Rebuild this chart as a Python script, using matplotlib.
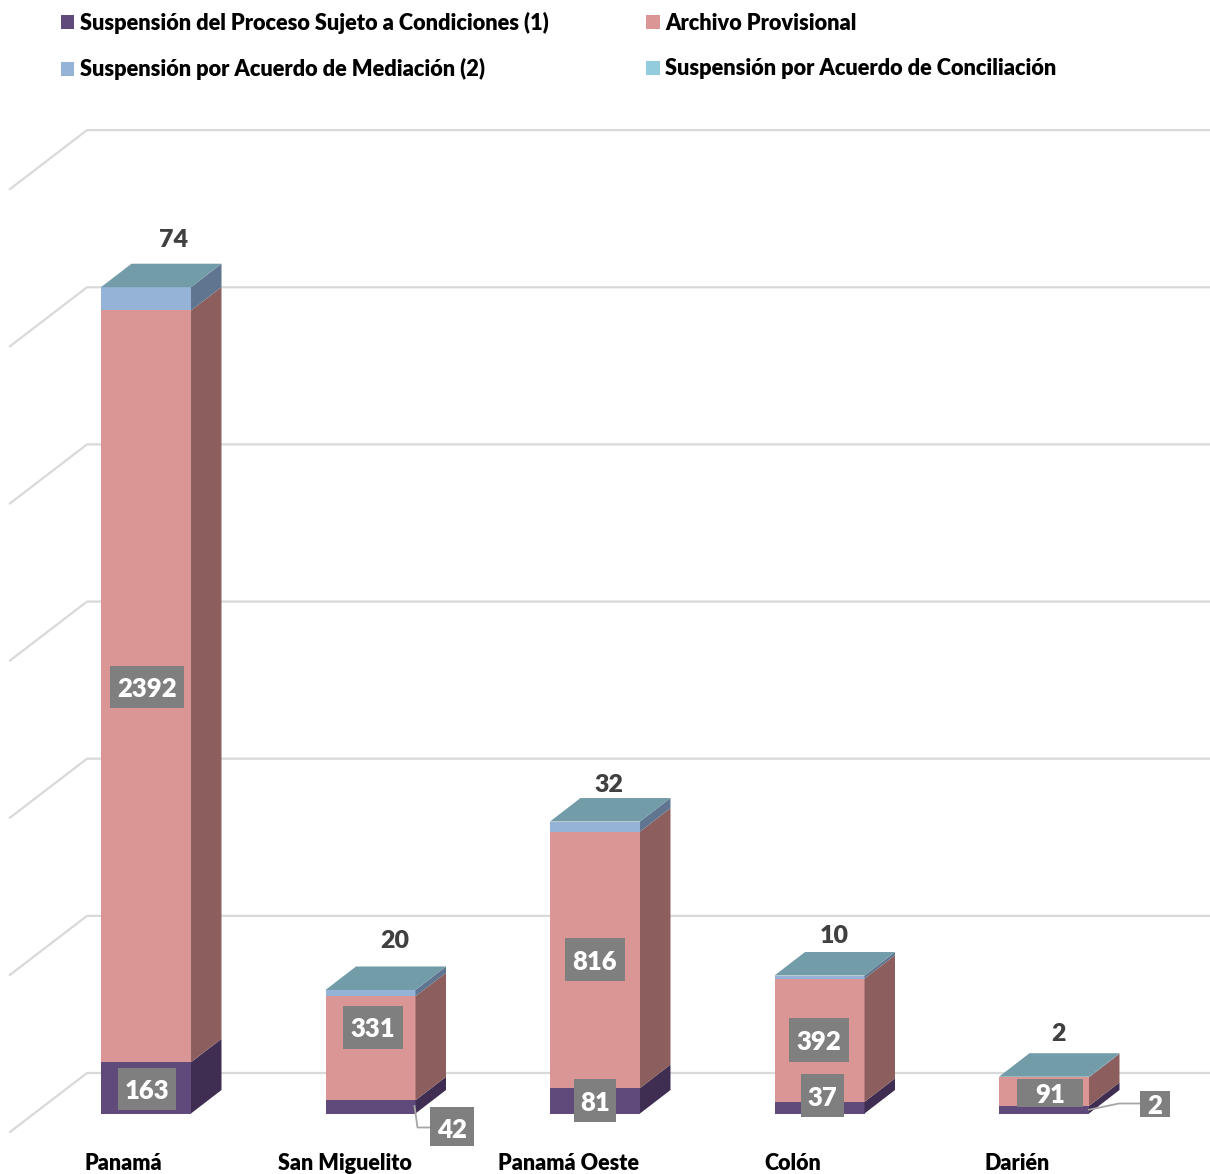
import numpy as np
import matplotlib
matplotlib.use('Agg')
import matplotlib.pyplot as plt
from matplotlib.patches import Patch, Polygon, Rectangle

plt.rcParams['font.family'] = ['Lato', 'DejaVu Sans']
BOLD = 'heavy'

categories = ['Panamá', 'San Miguelito', 'Panamá Oeste', 'Colón', 'Darién']
series_names = ['Suspensión del Proceso Sujeto a Condiciones (1)', 'Archivo Provisional',
                'Suspensión por Acuerdo de Mediación (2)', 'Suspensión por Acuerdo de Conciliación']

# Darién's first segment is drawn much taller than its printed label of 2,
# so bar heights and printed labels are kept apart for that series
proceso = [163, 42, 81, 37, 24]
proceso_labels = ['163', '42', '81', '37', '2']
archivo = [2392, 331, 816, 392, 91]
mediacion = [74, 20, 32, 10, 2]
conciliacion = [0, 0, 0, 0, 0]
y_ticks = [0, 500, 1000, 1500, 2000, 2500, 3000]

front_colors = ['#604a7b', '#d99694', '#95b3d7', '#93cddd']
side_colors = ['#3f2e52', '#8c5f5e', '#5f7590', '#5f8a96']
top_color = '#729ca8'
grid_color = '#d9d9d9'
label_box = '#7f7f7f'

# Pixel scale of the axes
W, H = 1210, 1174
AX_BOTTOM = 1146
X0, STEP = 146, 224.5
Y0, PX_PER_UNIT = 1113.5, 0.3143


def dx(px):
    return px / STEP


def dy(px):
    return px / PX_PER_UNIT


fig = plt.figure(figsize=(W / 100, H / 100), dpi=100)
ax = fig.add_axes([0, 1 - AX_BOTTOM / H, 1, AX_BOTTOM / H])
ax.set_xlim(dx(-X0), dx(W - X0))
ax.set_ylim(dy(Y0 - AX_BOTTOM), dy(Y0))
ax.patch.set_visible(False)
for spine in ax.spines.values():
    spine.set_visible(False)
ax.set_yticks([])

# Back wall and side wall gridlines
for v in y_ticks:
    back_y = v + dy(Y0 - 1073)
    front_y = v + dy(Y0 - 1132)
    wall_x = dx(87 - X0)
    ax.plot([dx(10 - X0), wall_x, dx(W - X0)], [front_y, back_y, back_y],
            color=grid_color, linewidth=1.6, zorder=1, solid_joinstyle='miter')

# 3D stacked bars
x = np.arange(len(categories))
half = dx(45)
depth_x, depth_y = dx(30.5), dy(23.5)
stack = np.array([proceso, archivo, mediacion, conciliacion], dtype=float)
bottoms = np.vstack([np.zeros(len(x)), np.cumsum(stack, axis=0)[:-1]])

for i in x:
    left, right = i - half, i + half
    for s in range(len(stack)):
        lo = bottoms[s, i]
        hi = lo + stack[s, i]
        if stack[s, i] == 0:
            continue
        ax.add_patch(Polygon([(left, lo), (right, lo), (right, hi), (left, hi)],
                             facecolor=front_colors[s], edgecolor='none', zorder=2))
        ax.add_patch(Polygon([(right, lo), (right + depth_x, lo + depth_y),
                              (right + depth_x, hi + depth_y), (right, hi)],
                             facecolor=side_colors[s], edgecolor='none', zorder=2))
    total = stack[:, i].sum()
    ax.add_patch(Polygon([(left, total), (right, total),
                          (right + depth_x, total + depth_y), (left + depth_x, total + depth_y)],
                         facecolor=top_color, edgecolor='none', zorder=3))


def box_label(text, i, value, offset, box, size=18.5):
    # offset and box are in pixels; offset is taken from the segment's middle
    cx = i + dx(offset[0])
    cy = value + dy(offset[1])
    ax.add_patch(Rectangle((cx - dx(box[0] / 2), cy - dy(box[1] / 2)), dx(box[0]), dy(box[1]),
                           facecolor=label_box, edgecolor='none', zorder=5))
    ax.text(cx, cy, text, ha='center', va='center_baseline', color='white',
            fontsize=size, fontweight=BOLD, zorder=6)


proceso_offsets = [(1, -1), (81.5, -21), (0, 0), (3, 12), (111, 6)]
proceso_boxes = [(58, 42), (44, 42), (42, 43), (43, 43), (30, 26)]
archivo_offsets = [(1, -1), (2.5, 21), (0, 0), (-0.5, 0), (6, -1)]
archivo_boxes = [(74, 42), (60, 43), (60, 43), (60, 44), (66, 28)]
total_offsets = [(28, 33.5), (24, 35), (14, 22.5), (15, 26), (15, 29)]

for i in x:
    box_label(proceso_labels[i], i, proceso[i] / 2, proceso_offsets[i], proceso_boxes[i])
    box_label(str(archivo[i]), i, proceso[i] + archivo[i] / 2, archivo_offsets[i], archivo_boxes[i])
    off_x, off_y = total_offsets[i]
    ax.annotate(str(mediacion[i]), (i, stack[:, i].sum()),
                xytext=(off_x * 0.72, off_y * 0.72 + 10), textcoords='offset points',
                ha='center', va='center', color='#404040', fontsize=18, fontweight=BOLD, zorder=6)

# Leader lines for the two labels moved off the bars
ax.plot([1 + half - dx(1), 1 + half + dx(2), 1 + half + dx(15)],
        [proceso[1] / 2 + dy(1), dy(-14), dy(-14)], color='#a6a6a6', linewidth=1.3, zorder=4)
ax.plot([4 + half, 4 + half + dx(30), 4 + half + dx(52)],
        [proceso[4] / 2, dy(10), dy(10)], color='#a6a6a6', linewidth=1.3, zorder=4)

# Category labels sit left of the bar centres
tick_shift = [-23, -26, -26, -27, -27]
ax.set_xticks(x + dx(np.array(tick_shift)), categories)
ax.tick_params(axis='x', length=0, pad=5, labelsize=15.5, labelcolor='black')
for lab in ax.get_xticklabels():
    lab.set_fontweight(BOLD)

handles = [Patch(facecolor=front_colors[s], label=series_names[s]) for s in [0, 2, 1, 3]]
fig.legend(handles=handles, ncol=2, loc='upper left', bbox_to_anchor=(54 / W, 1 - 5 / H),
           frameon=False, prop=dict(size=15.7, weight=BOLD), handlelength=0.62,
           handleheight=0.62, handletextpad=0.25, columnspacing=4.5, labelspacing=1.13,
           labelcolor='black', borderpad=0.3, borderaxespad=0)

fig.savefig('out.png', dpi=100)
plt.close(fig)
